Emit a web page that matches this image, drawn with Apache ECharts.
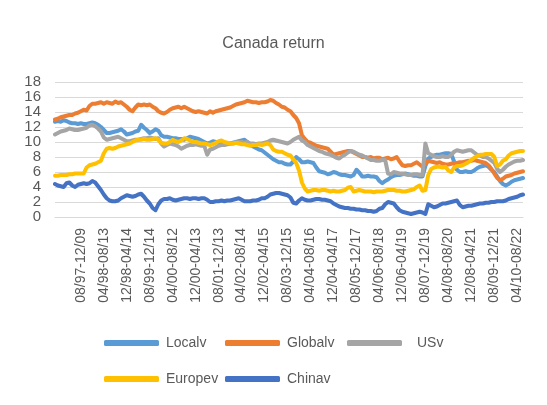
<!DOCTYPE html>
<html>
<head>
<meta charset="utf-8">
<script src="https://cdn.jsdelivr.net/npm/echarts@6/dist/echarts.min.js"></script>
<style>
  html, body { margin: 0; padding: 0; background: #fff; }
  #box { width: 547px; height: 405px; }
</style>
</head>
<body>
<div id="box"></div>
<script>
// window labels shown on the x axis (every 8th window, from index 9)
const tickLabels = ['08/97-12/09', '04/98-08/13', '12/98-04/14', '08/99-12/14', '04/00-08/12',
  '12/00-04/13', '08/01-12/13', '04/02-08/14', '12/02-04/15', '08/03-12/15',
  '04/04-08/16', '12/04-04/17', '08/05-12/17', '04/06-08/18', '12/06-04/19',
  '08/07-12/19', '04/08-08/20', '12/08-04/21', '08/09-12/21', '04/10-08/22'];

const localv = [12.7,12.8,12.7,12.9,12.8,12.6,12.5,12.5,12.4,12.5,12.4,12.4,12.5,12.6,12.5,12.3,12.0,11.6,11.2,11.2,
  11.3,11.4,11.5,11.7,11.4,11.0,11.1,11.2,11.4,11.5,12.3,11.9,11.6,11.2,11.4,11.7,11.5,10.9,10.7,10.7,
  10.6,10.5,10.5,10.4,10.4,10.3,10.5,10.7,10.6,10.5,10.4,10.2,10.0,9.8,9.9,10.1,10.0,9.9,9.8,9.9,
  9.8,9.8,9.9,10.0,10.1,10.2,10.3,10.0,9.6,9.4,9.2,9.0,8.9,8.6,8.3,8.0,7.7,7.5,7.3,7.3,
  7.1,7.0,7.0,7.4,8.0,7.7,7.3,7.3,7.4,7.3,7.2,6.6,6.1,6.0,5.9,5.7,5.8,6.0,5.9,5.7,
  5.6,5.6,5.5,5.4,5.6,6.3,5.9,5.4,5.4,5.5,5.4,5.4,5.3,4.8,4.5,4.8,5.0,5.3,5.5,5.6,
  5.6,5.7,5.8,5.7,5.6,5.5,5.5,5.4,5.4,6.8,7.8,8.0,8.2,8.3,8.3,8.4,8.5,8.5,8.4,7.4,
  6.3,6.0,6.0,6.1,6.0,6.0,6.2,6.5,6.7,6.8,6.9,6.7,6.3,6.0,5.4,4.8,4.4,4.2,4.4,4.7,
  4.9,5.0,5.1,5.2];

const globalv = [13.0,13.1,13.3,13.4,13.5,13.6,13.6,13.8,13.9,14.1,14.3,14.2,14.8,15.1,15.1,15.2,15.3,15.1,15.3,15.2,
  15.1,15.4,15.2,15.3,15.0,14.7,14.3,14.1,14.6,15.0,14.9,15.0,14.9,15.0,14.7,14.5,14.1,13.9,13.8,14.0,
  14.3,14.5,14.6,14.7,14.5,14.7,14.5,14.3,14.1,14.0,14.1,14.0,13.9,13.8,14.1,13.9,14.1,14.2,14.3,14.4,
  14.5,14.6,14.8,15.0,15.1,15.2,15.3,15.5,15.4,15.3,15.3,15.2,15.3,15.3,15.4,15.6,15.5,15.2,15.0,14.7,
  14.6,14.3,14.1,13.6,13.2,12.5,10.9,10.4,10.0,9.9,9.7,9.5,9.4,9.3,9.2,9.1,8.7,8.3,8.4,8.5,
  8.6,8.7,8.8,8.8,8.6,8.4,8.2,8.0,8.0,7.9,8.0,7.8,7.9,7.9,7.7,7.8,7.9,7.7,7.8,8.0,
  7.4,6.9,6.8,6.9,6.9,7.1,7.3,7.0,6.7,7.1,7.5,7.4,7.3,7.2,7.3,7.1,7.0,7.0,7.1,7.2,
  7.2,7.3,7.3,7.4,7.5,7.5,7.6,7.5,7.4,7.3,7.2,6.9,6.4,5.8,5.2,4.9,5.1,5.4,5.5,5.6,
  5.8,5.9,6.0,6.1];

const usv = [11.0,11.2,11.4,11.5,11.6,11.8,11.7,11.6,11.6,11.7,11.8,11.9,12.2,12.3,12.1,11.8,11.4,10.6,10.3,10.4,
  10.5,10.6,10.7,10.5,10.3,10.1,10.1,10.2,10.3,10.3,10.4,10.5,10.5,10.6,10.5,10.4,10.5,9.8,9.4,9.6,
  9.8,9.7,9.6,9.4,9.1,9.3,9.5,9.6,9.6,9.7,9.6,9.5,9.5,8.3,9.0,9.1,9.3,9.5,9.6,9.6,
  9.7,9.8,9.8,9.9,10.0,10.0,9.9,10.0,9.8,9.8,9.7,9.8,9.8,9.9,10.0,10.2,10.3,10.2,10.1,10.0,
  9.9,9.8,10.0,10.3,10.5,10.7,10.2,10.0,9.6,9.4,9.2,9.0,8.8,8.7,8.5,8.4,8.3,8.1,7.9,7.8,
  8.1,8.3,8.6,8.8,8.7,8.5,8.3,8.2,8.0,7.8,7.6,7.6,7.5,7.5,7.6,7.6,5.8,5.7,6.0,5.9,
  5.8,5.8,5.7,5.6,5.6,5.7,5.7,5.6,5.6,9.8,8.5,8.3,8.1,8.0,8.0,8.1,8.0,8.0,8.3,8.7,
  8.9,8.8,8.7,8.8,8.9,8.9,8.6,8.3,8.2,8.0,8.0,7.8,7.5,7.2,6.4,6.0,6.3,6.7,7.0,7.2,
  7.4,7.5,7.5,7.6];

const europev = [5.5,5.5,5.6,5.6,5.6,5.7,5.7,5.8,5.8,5.8,5.8,6.6,6.9,7.0,7.1,7.3,7.5,8.5,9.1,9.2,
  9.1,9.2,9.4,9.5,9.6,9.7,9.8,10.0,10.2,10.3,10.3,10.4,10.3,10.3,10.4,10.5,10.3,9.9,9.8,9.8,
  10.0,10.3,10.1,10.0,10.2,10.5,10.4,10.2,10.0,10.0,9.9,9.8,9.8,9.7,9.6,9.7,9.9,10.1,10.2,10.0,
  9.9,9.8,9.8,9.9,9.8,9.7,9.7,9.6,9.5,9.6,9.6,9.7,9.6,9.7,9.8,9.6,9.0,8.8,8.7,8.7,
  8.5,8.3,8.2,7.7,7.2,6.2,4.6,3.8,3.4,3.5,3.6,3.6,3.5,3.6,3.6,3.5,3.4,3.5,3.4,3.4,
  3.5,3.6,3.9,4.0,3.4,3.5,3.6,3.5,3.4,3.4,3.4,3.3,3.4,3.4,3.4,3.5,3.6,3.6,3.6,3.5,
  3.5,3.4,3.4,3.5,3.6,3.7,4.0,4.2,3.5,3.6,5.6,6.4,6.6,6.7,6.7,6.6,6.7,6.2,6.0,6.6,
  6.8,6.8,6.9,7.1,7.3,7.6,7.9,8.1,8.3,8.3,8.4,8.4,8.4,8.0,6.8,7.0,7.5,7.7,8.2,8.5,
  8.6,8.7,8.8,8.8];

const chinav = [4.4,4.2,4.1,4.0,4.5,4.6,4.2,4.0,4.3,4.4,4.5,4.4,4.5,4.8,4.6,4.1,3.6,3.0,2.5,2.2,
  2.1,2.1,2.2,2.5,2.7,2.9,2.8,2.7,2.8,3.0,3.1,2.7,2.2,1.8,1.2,0.9,1.7,2.2,2.4,2.4,
  2.5,2.3,2.2,2.3,2.4,2.5,2.5,2.4,2.5,2.5,2.4,2.5,2.5,2.3,2.0,2.0,2.1,2.1,2.2,2.1,
  2.2,2.2,2.3,2.4,2.5,2.3,2.1,2.1,2.1,2.2,2.2,2.3,2.5,2.5,2.7,3.0,3.1,3.2,3.2,3.1,
  3.0,2.9,2.6,1.9,1.8,2.2,2.5,2.3,2.2,2.2,2.3,2.4,2.4,2.3,2.3,2.2,2.1,1.8,1.6,1.4,
  1.3,1.2,1.2,1.1,1.1,1.0,1.0,0.9,0.9,0.8,0.8,0.7,0.8,1.1,1.2,1.7,2.0,1.9,1.8,1.3,
  0.9,0.7,0.6,0.5,0.4,0.5,0.6,0.7,0.6,0.4,1.7,1.5,1.3,1.4,1.6,1.8,1.8,1.9,2.0,2.1,
  2.2,1.6,1.3,1.4,1.5,1.5,1.6,1.7,1.8,1.8,1.9,1.9,2.0,2.0,2.1,2.1,2.1,2.2,2.4,2.5,
  2.6,2.7,2.9,3.0];

// window start months, 11/96 onwards
const categories = localv.map((v, i) => {
  const m = (10 + i) % 12 + 1;
  const y = (96 + Math.floor((10 + i) / 12)) % 100;
  return String(m).padStart(2, '0') + '/' + String(y).padStart(2, '0');
});

const colors = ['#5B9BD5', '#ED7D31', '#A5A5A5', '#FFC000', '#4472C4'];
const names = ['Localv', 'Globalv', 'USv', 'Europev', 'Chinav'];
const values = [localv, globalv, usv, europev, chinav];
const font = 'Liberation Sans';

const chartDom = document.getElementById('box');
const myChart = echarts.init(chartDom);

const legendPos = [[104, 336, 7], [225, 336, 7], [347, 336, 15], [104, 372, 7], [225, 372, 7]];

var option = {
  animation: false,
  title: {
    text: 'Canada return',
    left: 'center',
    top: 31,
    textStyle: { fontFamily: font, fontSize: 16, fontWeight: 'normal', color: '#595959' }
  },
  legend: names.map((n, k) => ({
    data: [n],
    left: legendPos[k][0],
    top: legendPos[k][1],
    padding: 0,
    itemWidth: 55,
    itemHeight: 6,
    icon: 'roundRect',
    textStyle: { fontFamily: font, fontSize: 14, color: '#595959', padding: [0, 0, 0, legendPos[k][2] - 5] }
  })),
  grid: {
    left: 55,
    right: 24,
    top: 82,
    bottom: 188
  },
  xAxis: {
    type: 'category',
    boundaryGap: false,
    data: categories,
    axisLine: { lineStyle: { color: '#D9D9D9' } },
    axisTick: { show: false },
    axisLabel: {
      rotate: 90,
      margin: 11,
      fontFamily: font,
      fontSize: 14,
      color: '#595959',
      interval: (idx) => idx >= 9 && (idx - 9) % 8 === 0,
      formatter: (val, idx) => tickLabels[(idx - 9) / 8] || ''
    }
  },
  yAxis: {
    type: 'value',
    min: 0,
    max: 18,
    interval: 2,
    axisLine: { show: false },
    axisTick: { show: false },
    splitLine: { lineStyle: { color: '#D9D9D9', width: 1 } },
    axisLabel: { margin: 14, fontFamily: font, fontSize: 15, color: '#595959' }
  },
  series: names.map((n, k) => ({
    name: n,
    type: 'line',
    data: values[k],
    showSymbol: false,
    symbol: 'none',
    color: colors[k],
    lineStyle: { width: 4, color: colors[k], cap: 'round', join: 'round' }
  }))
};
option && myChart.setOption(option);
</script>
</body>
</html>
